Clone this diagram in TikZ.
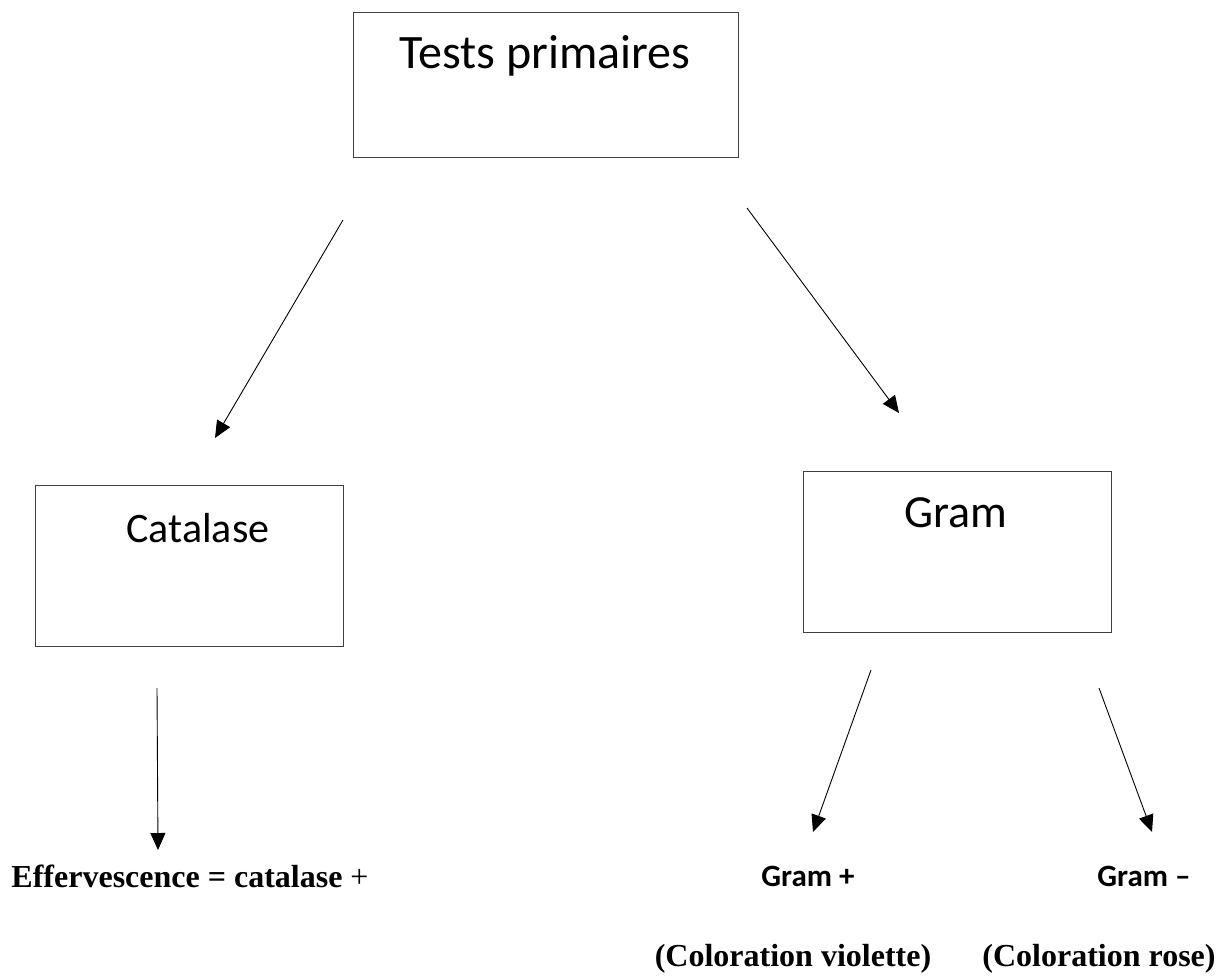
\documentclass[tikz,border=0pt]{standalone}
\usepackage{fontspec}
\setmainfont{Liberation Serif}
\newfontfamily\calib{Carlito}
\usetikzlibrary{arrows.meta}
\tikzset{
  box/.style={draw=black!75, line width=0.9pt, minimum width=#1, inner sep=0pt},
  arr/.style={line width=0.9pt, -{Triangle[length=17pt,width=15pt]}},
  boxtxt/.style={font=\calib\fontsize{#1}{#1}\selectfont, anchor=base, inner sep=0pt},
  restxt/.style={font=\bfseries\fontsize{32}{36}\selectfont, anchor=base, inner sep=0pt},
  gramtxt/.style={font=\calib\bfseries\fontsize{31}{34}\selectfont, anchor=base, inner sep=0pt}
}
\begin{document}
\begin{tikzpicture}[x=1pt,y=-1pt]
\useasboundingbox (0,0) rectangle (1226,978);
% boxes
\node[box=385pt, minimum height=145pt, anchor=north west] (tests) at (353,12) {};
\node[box=308pt, minimum height=161pt, anchor=north west] (cat) at (35,485) {};
\node[box=308pt, minimum height=161pt, anchor=north west] (gram) at (803,471) {};
% box texts
\node[boxtxt=48] (testsT) at (545,68) {Tests primaires};
\node[boxtxt=42] (catT) at (198,542) {Catalase};
\node[boxtxt=46] (gramT) at (956,527) {Gram};
% results
\node[restxt] (eff) at (190,887) {Effervescence = catalase \textmd{+}};
\node[gramtxt] (gp) at (808,886) {Gram +};
\node[gramtxt] (gm) at (1144,886) {Gram –};
\node[restxt] (cv) at (793,966) {(Coloration violette)};
\node[restxt] (cr) at (1099,966) {(Coloration rose)};
% connector ends
\coordinate (a1s) at (343,220); \coordinate (a1e) at (215,438);
\coordinate (a2s) at (747,208); \coordinate (a2e) at (899,413);
\coordinate (a3s) at (157,688); \coordinate (a3e) at (158,850);
\coordinate (a4s) at (871,670); \coordinate (a4e) at (813,832);
\coordinate (a5s) at (1099,688); \coordinate (a5e) at (1152,832);
\draw[arr] (a1s) -- (a1e);
\draw[arr] (a2s) -- (a2e);
\draw[arr] (a3s) -- (a3e);
\draw[arr] (a4s) -- (a4e);
\draw[arr] (a5s) -- (a5e);
\end{tikzpicture}
\end{document}
